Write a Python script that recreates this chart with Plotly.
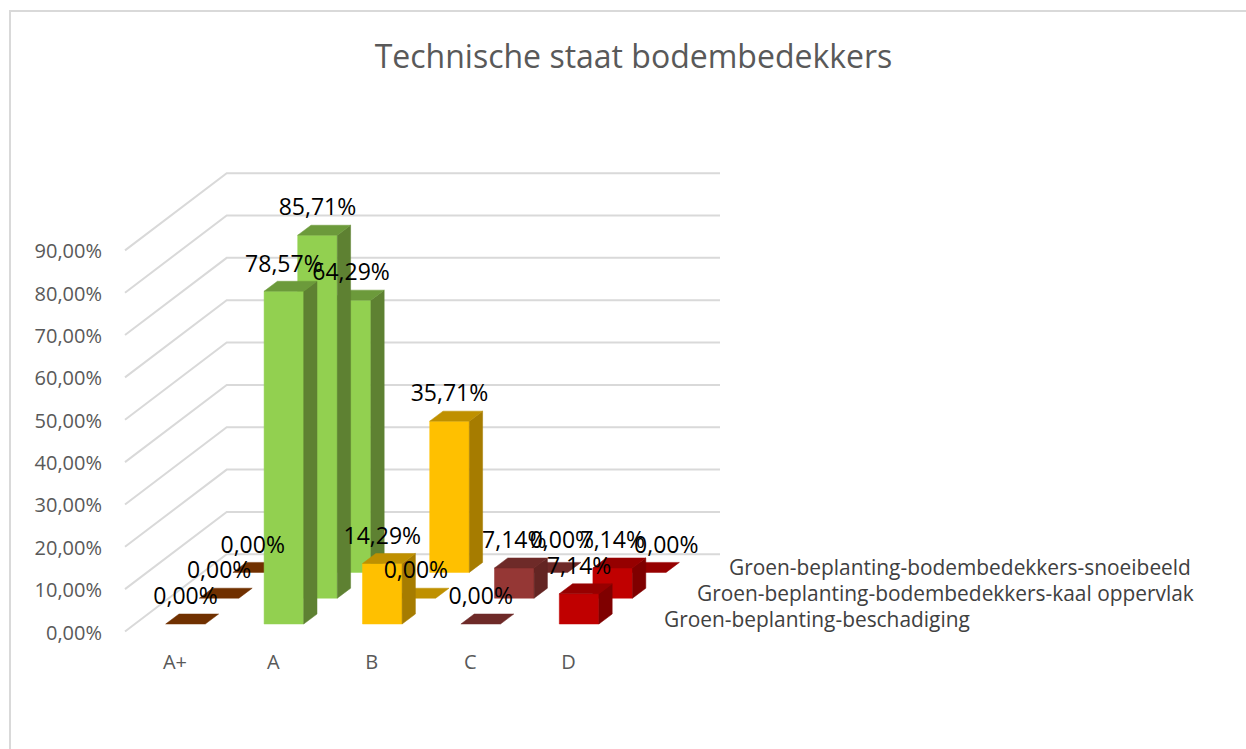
import plotly.graph_objects as go

# ---- data ----
categories = ["A+", "A", "B", "C", "D"]
series_names = [
    "Groen-beplanting-beschadiging",
    "Groen-beplanting-bodembedekkers-kaal oppervlak",
    "Groen-beplanting-bodembedekkers-snoeibeeld",
]
beschadiging = [0.00, 78.57, 14.29, 0.00, 7.14]
kaal_oppervlak = [0.00, 85.71, 0.00, 7.14, 7.14]
snoeibeeld = [0.00, 64.29, 35.71, 0.00, 0.00]
series_values = [beschadiging, kaal_oppervlak, snoeibeeld]
y_ticks = [0, 10, 20, 30, 40, 50, 60, 70, 80, 90]
y_tick_labels = ["0,00%", "10,00%", "20,00%", "30,00%", "40,00%",
                 "50,00%", "60,00%", "70,00%", "80,00%", "90,00%"]
title_text = "Technische staat bodembedekkers"

# face colours per category: front, side, top
front_colors = ["#703000", "#92D050", "#FFC000", "#953735", "#C00000"]
side_colors = ["#703000", "#5E8132", "#A67C00", "#632523", "#7F0000"]
top_colors = ["#703000", "#6C9A3B", "#BF9000", "#6E2A28", "#960000"]

# ---- canvas / oblique projection ----
W, H = 1246, 749
PL, PR, PT, PB = 110, 730, 160, 640      # plot area in pixels
PX_PER_CAT = 98.4
PX_PER_PCT = 4.235
X0_PX = 175                              # pixel of the first category tick
Y0_PX = 632.5                            # pixel of the 0 tick
x_range = [(PL - X0_PX) / PX_PER_CAT, (PR - X0_PX) / PX_PER_CAT]
y_range = [(Y0_PX - PB) / PX_PER_PCT, (Y0_PX - PT) / PX_PER_PCT]

SER_DX, SER_DY = 33.6 / PX_PER_CAT, 25.8 / PX_PER_PCT     # shift per series
BAR_W = 39.6 / PX_PER_CAT
BAR_DX, BAR_DY = 13.3 / PX_PER_CAT, 10 / PX_PER_PCT       # depth of a bar
INSET_X, INSET_Y = -9.3 / PX_PER_CAT, 8.5 / PX_PER_PCT    # first bar vs. axis origin
WALL_LEFT, WALL_RIGHT = (125 - X0_PX) / PX_PER_CAT, (720 - X0_PX) / PX_PER_CAT
WALL_DX, WALL_DY = 101.7 / PX_PER_CAT, 77.2 / PX_PER_PCT
WALL_Y0 = 1.0 / PX_PER_PCT
LABEL_UP = 25.5 / PX_PER_PCT
NAME_X0, NAME_DX = 662, 32.5                              # depth-axis name pixels
# hand-moved data labels in the reference: (series, category) -> pixels right, up
LABEL_NUDGE = {(2, 3): (14, 5), (2, 4): (20, 0)}


def poly(xs, ys, color):
    return go.Scatter(x=xs + xs[:1], y=ys + ys[:1], mode="lines", fill="toself",
                      fillcolor=color, line=dict(color=color, width=0.5),
                      hoverinfo="skip", showlegend=False, cliponaxis=False)


fig = go.Figure()

# walls: gridlines on side wall and back wall
gx, gy = [], []
for t in y_ticks:
    gx += [WALL_LEFT, WALL_LEFT + WALL_DX, WALL_RIGHT, None]
    gy += [t + WALL_Y0, t + WALL_Y0 + WALL_DY, t + WALL_Y0 + WALL_DY, None]
fig.add_trace(go.Scatter(x=gx, y=gy, mode="lines", line=dict(color="#D9D9D9", width=2),
                         hoverinfo="skip", showlegend=False, cliponaxis=False))

# bars, back series first
label_x, label_y, label_t = [], [], []
for s in range(len(series_values) - 1, -1, -1):
    for c, v in enumerate(series_values[s]):
        x0 = c + INSET_X + s * SER_DX
        x1 = x0 + BAR_W
        b = INSET_Y + s * SER_DY
        t = b + v
        if v > 0:
            fig.add_trace(poly([x0, x1, x1, x0], [b, b, t, t], front_colors[c]))
            fig.add_trace(poly([x1, x1 + BAR_DX, x1 + BAR_DX, x1],
                               [b, b + BAR_DY, t + BAR_DY, t], side_colors[c]))
        fig.add_trace(poly([x0, x1, x1 + BAR_DX, x0 + BAR_DX],
                           [t, t, t + BAR_DY, t + BAR_DY], top_colors[c]))
        nx, ny = LABEL_NUDGE.get((s, c), (0, 0))
        label_x.append((x0 + x1) / 2 + nx / PX_PER_CAT)
        label_y.append(t + LABEL_UP + ny / PX_PER_PCT)
        label_t.append(f"{v:.2f}%".replace(".", ","))

# data labels
fig.add_trace(go.Scatter(x=label_x, y=label_y, text=label_t, mode="text",
                         textposition="middle center",
                         textfont=dict(family="Open Sans", size=23, color="#000000"),
                         hoverinfo="skip", showlegend=False, cliponaxis=False))


def px_x(p):
    return (p - PL) / (PR - PL)


def px_y(p):
    return (PB - p) / (PB - PT)


def paper_y(v):
    return (v - y_range[0]) / (y_range[1] - y_range[0])


# series (depth axis) labels
for s, name in enumerate(series_names):
    fig.add_annotation(xref="paper", yref="paper",
                       x=px_x(NAME_X0 + s * NAME_DX),
                       y=paper_y(INSET_Y + s * SER_DY + 1.25),
                       text=name, showarrow=False, xanchor="left", yanchor="middle",
                       font=dict(family="Open Sans", size=20.9, color="#404040"))

# outer chart frame
fig.add_shape(type="path", xref="paper", yref="paper", layer="below",
              path=f"M {px_x(10)} {px_y(749)} L {px_x(10)} {px_y(11)} L {px_x(1246)} {px_y(11)}",
              line=dict(color="#D9D9D9", width=2))

fig.update_layout(
    width=W, height=H, autosize=False,
    margin=dict(l=PL, r=W - PR, t=PT, b=H - PB, pad=0),
    paper_bgcolor="white", plot_bgcolor="rgba(0,0,0,0)",
    title=dict(text=title_text, x=633.5 / W, xanchor="center", xref="container",
               y=1 - 57 / H, yanchor="middle", yref="container",
               font=dict(family="Open Sans", size=32, color="#595959")),
    xaxis=dict(range=x_range, tickmode="array", tickvals=list(range(len(categories))),
               ticktext=categories, showgrid=False, zeroline=False, showline=False,
               ticks="", ticklabelstandoff=8,
               tickfont=dict(family="Open Sans", size=20, color="#595959")),
    yaxis=dict(range=y_range, tickmode="array", tickvals=y_ticks, ticktext=y_tick_labels,
               showgrid=False, zeroline=False, showline=False, ticks="",
               ticklabelstandoff=7,
               tickfont=dict(family="Open Sans", size=20, color="#595959")),
)

fig.write_html("out.html", post_script="document.body.style.margin='0';document.documentElement.style.overflow='hidden';",
               config=dict(displayModeBar=False))
